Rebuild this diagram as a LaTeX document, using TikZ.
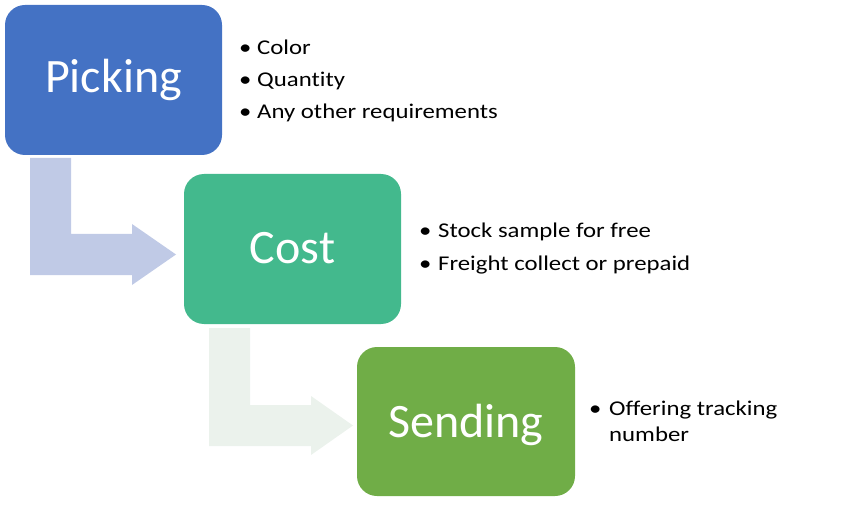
\documentclass[tikz,border=0pt]{standalone}
\usepackage{fontspec}
\setmainfont{Carlito}
\newfontfamily\widefont[FakeStretch=1.18,Ligatures=NoCommon]{Carlito}
\definecolor{pickblue}{HTML}{4472C4}
\definecolor{costgreen}{HTML}{43B98D}
\definecolor{sendgreen}{HTML}{70AD47}
\definecolor{arrowone}{HTML}{C0CAE6}
\definecolor{arrowtwo}{HTML}{EBF2EC}
\begin{document}
\begin{tikzpicture}[x=1pt,y=-1pt,
  stepbox/.style={fill=#1, draw=none, rounded corners=20pt},
  title/.style={text=white, font=\fontsize{48}{52}\selectfont, inner sep=0pt, anchor=base},
  bul/.style={font=\widefont\fontsize{21}{24}\selectfont, inner sep=0pt, anchor=base west},
  bentarrow/.style={fill=#1, draw=none}]
\useasboundingbox (0,0) rectangle (865,505);
% boxes
\fill[stepbox=pickblue] (5,5) rectangle (222,155);
\fill[stepbox=costgreen] (184,174) rectangle (401,324);
\fill[stepbox=sendgreen] (357,347) rectangle (575,496);
\node[title] (picking) at (113.5,93) {Picking};
\node[title] (cost) at (292.5,263) {Cost};
\node[title] (sending) at (466,437) {Sending};
% bent arrows
\fill[bentarrow=arrowone] (30,158) -- (71,158) -- (71,234) -- (132,234) -- (132,224) -- (176,254.5) -- (132,285) -- (132,275) -- (30,275) -- cycle;
\fill[bentarrow=arrowtwo] (209,328) -- (250,328) -- (250,405) -- (311,405) -- (311,396) -- (353,425.5) -- (311,455) -- (311,446) -- (209,446) -- cycle;
% bullets Picking
\node[bul] (pb1) at (239,55) {\textbullet};
\node[bul] (pt1) at (257,55) {Color};
\node[bul] (pb2) at (239,87) {\textbullet};
\node[bul] (pt2) at (257,87) {Quantity};
\node[bul] (pb3) at (239,119) {\textbullet};
\node[bul] (pt3) at (257,119) {Any other requirements};
% bullets Cost
\node[bul] (cb1) at (419,238) {\textbullet};
\node[bul] (ct1) at (438,238) {Stock sample for free};
\node[bul] (cb2) at (419,270) {\textbullet};
\node[bul] (ct2) at (438,270) {Freight collect or prepaid};
% bullets Sending
\node[bul] (sb1) at (589,415) {\textbullet};
\node[bul] (st1) at (609,415) {Offering tracking};
\node[bul] (st2) at (609,441) {number};
\end{tikzpicture}
\end{document}
